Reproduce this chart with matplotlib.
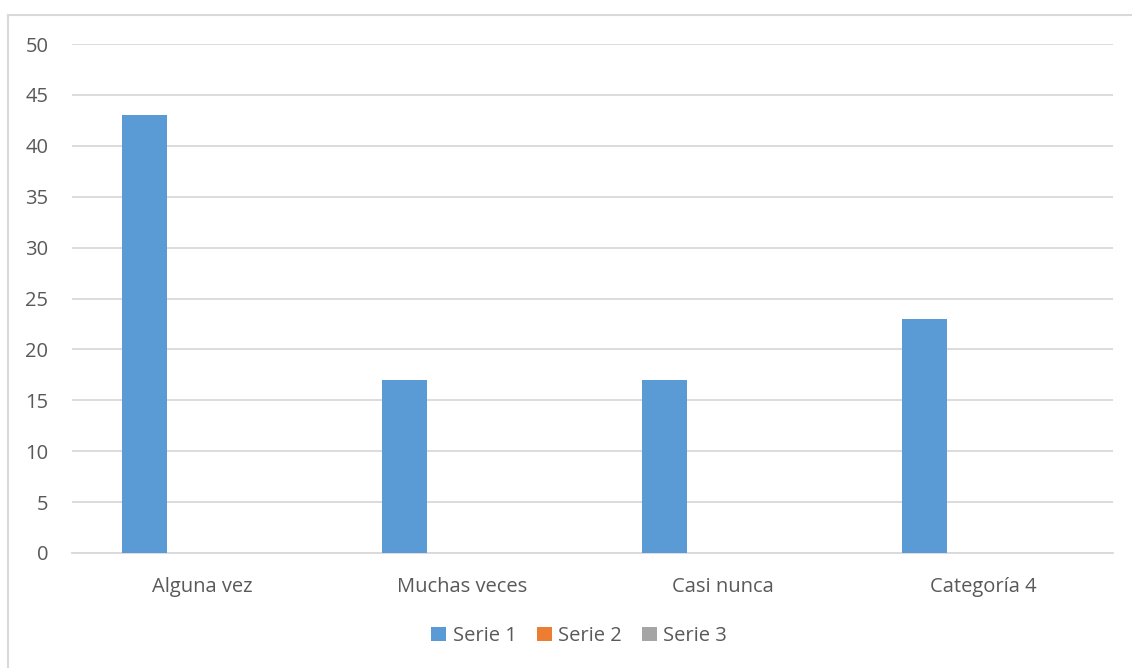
import matplotlib
matplotlib.use("Agg")
import matplotlib.pyplot as plt
from matplotlib.lines import Line2D
from matplotlib.patches import Patch
import numpy as np

categories = ["Alguna vez", "Muchas veces", "Casi nunca", "Categoría 4"]
series_names = ["Serie 1", "Serie 2", "Serie 3"]
serie1 = [43, 17, 17, 23]
serie2 = [0, 0, 0, 0]
serie3 = [0, 0, 0, 0]
colors = ["#5b9bd5", "#ed7d31", "#a5a5a5"]
yticks = [0, 5, 10, 15, 20, 25, 30, 35, 40, 45, 50]

plt.rcParams['font.family'] = ['Open Sans', 'DejaVu Sans']
text_color = "#595959"
grid_color = "#d9d9d9"

W, H = 1132, 668
fig = plt.figure(figsize=(W / 100, H / 100), dpi=100)
fig.patch.set_facecolor("white")

# chart-area frame (top and left edges visible)
fig.add_artist(Line2D([8 / W, 8 / W], [0, 1 - 15 / H], color=grid_color, lw=1.5))
fig.add_artist(Line2D([8 / W, 1], [1 - 15 / H, 1 - 15 / H], color=grid_color, lw=1.5))

ax = fig.add_axes([72 / W, (H - 553) / H, (1113 - 72) / W, (553 - 44) / H])
x = np.arange(len(categories))
bar_w = 0.173
offsets = [-0.223, -0.223 + bar_w, -0.223 + 2 * bar_w]
for vals, off, c in zip([serie1, serie2, serie3], offsets, colors):
    ax.bar(x + off, vals, width=bar_w, color=c, zorder=3)

ax.set_xlim(-0.5, len(categories) - 0.5)
ax.set_ylim(0, 50)
ax.set_yticks(yticks)
ax.set_xticks(x)
ax.set_xticklabels(categories)
ax.yaxis.grid(True, color=grid_color, lw=1.3, zorder=0)
ax.set_axisbelow(True)
for s in ["top", "right", "left"]:
    ax.spines[s].set_visible(False)
ax.spines["bottom"].set_color(grid_color)
ax.spines["bottom"].set_linewidth(1.3)
ax.tick_params(axis="both", length=0, labelsize=14.5, colors=text_color)
ax.tick_params(axis="y", pad=17)
ax.tick_params(axis="x", pad=17)

handles = [Patch(facecolor=c, edgecolor="none") for c in colors]
fig.legend(handles, series_names, loc="center", bbox_to_anchor=(579 / W, 1 - 636 / H),
           ncol=3, frameon=False, fontsize=14.5, labelcolor=text_color,
           handlelength=0.75, handleheight=0.75, handletextpad=0.3, columnspacing=1.0)

fig.savefig("out.png", dpi=100)
